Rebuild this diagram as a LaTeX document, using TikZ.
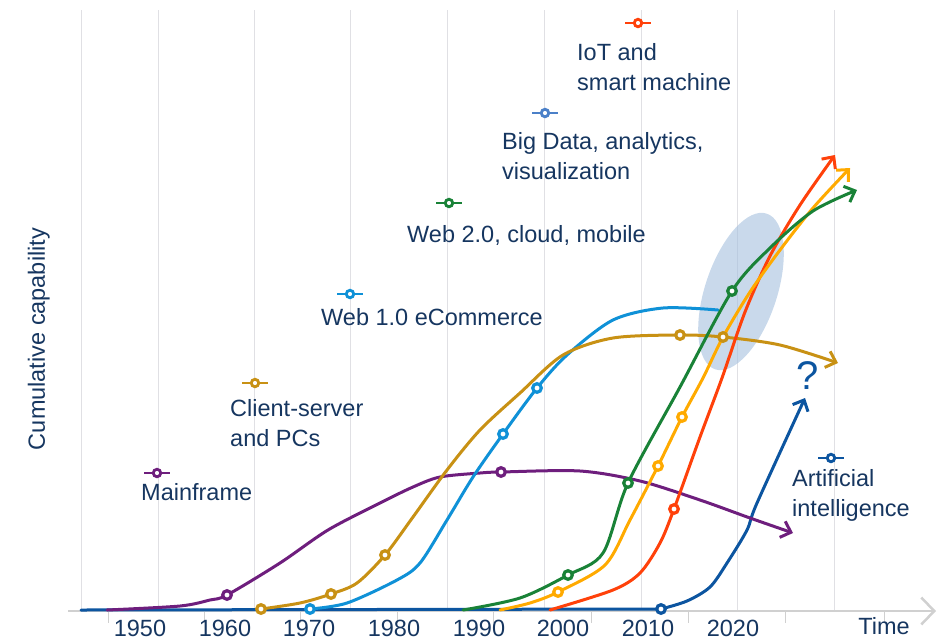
\documentclass[tikz,border=0pt]{standalone}
\usepackage{fontspec}
\setmainfont{Liberation Sans}
\usetikzlibrary{arrows.meta}
\definecolor{txt}{RGB}{22,54,96}
\definecolor{gridc}{RGB}{224,224,228}
\definecolor{axisc}{RGB}{208,208,208}
\definecolor{mfc}{RGB}{110,30,125}
\definecolor{csc}{RGB}{200,145,20}
\definecolor{wonec}{RGB}{15,145,215}
\definecolor{wtwoc}{RGB}{25,130,55}
\definecolor{bdc}{RGB}{255,170,0}
\definecolor{bdl}{RGB}{75,128,200}
\definecolor{iotc}{RGB}{255,65,10}
\definecolor{aic}{RGB}{12,85,160}
\definecolor{ellc}{RGB}{165,192,222}
\begin{document}
\begin{tikzpicture}[x=1pt,y=-1pt,
  lbl/.style={font=\fontsize{23.5}{29.5}\selectfont, text=txt, inner sep=0pt, align=left, anchor=base west},
  yr/.style={font=\fontsize{23.5}{28}\selectfont, text=txt, inner sep=0pt, anchor=base},
  gridline/.style={draw=gridc, line width=1pt},
  tickmark/.style={draw=axisc, line width=1pt},
  curve/.style={line width=3pt, line cap=round, line join=round},
  tipped/.style={-{Straight Barb[length=9pt,width=17pt]}},
  mk/.style={circle, draw=#1, fill=white, line width=3.2pt, minimum size=8.6pt, inner sep=0pt},
  lgc/.style={circle, draw=#1, fill=white, line width=2.8pt, minimum size=7.5pt, inner sep=0pt},
  lgl/.style={draw=#1, line width=2.8pt},
]
\useasboundingbox (0,0) rectangle (938,641);
% grid
\foreach \gx in {81,158,254,350,447,544,641,737,834}
  \draw[gridline] (\gx,10) -- (\gx,611);
% axis
\coordinate (axL) at (68,611);
\coordinate (axR) at (936,611);
\draw[draw=axisc, line width=1.5pt, -{Straight Barb[length=13pt,width=27pt,line width=2.5pt]}] (axL) -- (axR);
\foreach \tx in {108,204,300,397,493,591,688,785,884}
  \draw[tickmark] (\tx,611) -- (\tx,623);
% year labels
\foreach \yx/\yl in {140/1950,225/1960,309/1970,394/1980,479/1990,563/2000,648/2010,733/2020}
  \node[yr] at (\yx,636) {\yl};
\node[yr] (time) at (884,634) {Time};
\node[yr, rotate=90] (ylab) at (45,339) {Cumulative capability};
% ellipse
\fill[ellc, opacity=0.6, rotate around={71.7:(741,291.5)}] (741,291.5) ellipse [x radius=82pt, y radius=36pt];
% marker coordinates
\coordinate (cP1) at (227,595); \coordinate (cP2) at (501,472);
\coordinate (cG1) at (261,609); \coordinate (cG2) at (331,594); \coordinate (cG3) at (385,555);
\coordinate (cG4) at (680,335); \coordinate (cG5) at (723,337);
\coordinate (cB1) at (310,609); \coordinate (cB2) at (503,434); \coordinate (cB3) at (537,388);
\coordinate (cW1) at (568,575); \coordinate (cW2) at (628,483); \coordinate (cW3) at (732,291);
\coordinate (cO1) at (558,592); \coordinate (cO2) at (658,466); \coordinate (cO3) at (682,417);
\coordinate (cR1) at (674,509);
\coordinate (cA0) at (81,610); \coordinate (cA1) at (661,609);
% curves
\draw[curve, aic, tipped] (cA0) -- plot[smooth, tension=0.5] coordinates {(cA1) (687,601) (710,587) (727,563) (747,530) (757,503) (805,398)};
\draw[curve, mfc, tipped] plot[smooth, tension=0.5] coordinates {(107,610) (180,606) (210,600) (cP1) (280,563) (328,530) (380,503) (413,487) (440,477) (480,473) (cP2) (580,471) (640,481) (700,500) (750,518) (793,533)};
\draw[curve, wonec] plot[smooth, tension=0.5] coordinates {(cB1) (347,603) (397,580) (420,563) (447,520) (473,477) (cB2) (cB3) (567,355) (613,320) (663,308) (718,310)};
\draw[curve, csc, tipped] plot[smooth, tension=0.5] coordinates {(cG1) (300,603) (cG2) (357,583) (cG3) (413,517) (447,470) (480,430) (520,393) (563,355) (613,338) (cG4) (cG5) (780,345) (838,363)};
\draw[curve, iotc, tipped] plot[smooth, tension=0.5] coordinates {(550,610) (613,590) (640,573) (660,543) (cR1) (700,437) (722,378) (745,312) (770,256) (800,205) (835,155)};
\draw[curve, bdc, tipped] plot[smooth, tension=0.5] coordinates {(500,610) (530,603) (cO1) (605,565) (630,520) (cO2) (cO3) (703,378) (cG5) (750,292) (780,250) (813,208) (850,168)};
\draw[curve, wtwoc, tipped] plot[smooth, tension=0.5] coordinates {(463,610) (520,598) (cW1) (603,553) (cW2) (680,387) (cW3) (770,248) (813,211) (857,190)};
% markers
\node[mk=mfc] (mP1) at (cP1) {}; \node[mk=mfc] (mP2) at (cP2) {};
\node[mk=csc] (mG1) at (cG1) {}; \node[mk=csc] (mG2) at (cG2) {}; \node[mk=csc] (mG3) at (cG3) {};
\node[mk=csc] (mG4) at (cG4) {}; \node[mk=csc] (mG5) at (cG5) {};
\node[mk=wonec] (mB1) at (cB1) {}; \node[mk=wonec] (mB2) at (cB2) {}; \node[mk=wonec] (mB3) at (cB3) {};
\node[mk=wtwoc] (mW1) at (cW1) {}; \node[mk=wtwoc] (mW2) at (cW2) {}; \node[mk=wtwoc] (mW3) at (cW3) {};
\node[mk=bdc] (mO1) at (cO1) {}; \node[mk=bdc] (mO2) at (cO2) {}; \node[mk=bdc] (mO3) at (cO3) {};
\node[mk=iotc] (mR1) at (cR1) {};
\node[mk=aic] (mA1) at (cA1) {};
% legend markers
\foreach \nm/\cx/\cy/\cc in {IoT/638/23/iotc, BD/545/113/bdl, WT/449/203/wtwoc, WO/350/294/wonec, CS/255/383/csc, MF/157/473/mfc, AI/831/458/aic}{
  \coordinate (l\nm) at (\cx,\cy);
  \draw[lgl=\cc] ([xshift=-13pt]l\nm) -- ([xshift=13pt]l\nm);
  \node[lgc=\cc] (g\nm) at (l\nm) {};
}
% labels (base anchor = last line's baseline)
\node[lbl] (tIoT) at (577,90) {IoT and\\smart machine};
\node[lbl] (tBD) at (502,179) {Big Data, analytics,\\visualization};
\node[lbl] (tWT) at (407,242) {Web 2.0, cloud, mobile};
\node[lbl] (tWO) at (321,325) {Web 1.0 eCommerce};
\node[lbl] (tCS) at (230,446) {Client-server\\and PCs};
\node[lbl] (tMF) at (141,500) {Mainframe};
\node[lbl] (tAI) at (792,516) {Artificial\\intelligence};
\node[font=\fontsize{40}{40}\selectfont, text=aic, inner sep=0pt] (qm) at (808,376) {?};
\end{tikzpicture}
\end{document}
